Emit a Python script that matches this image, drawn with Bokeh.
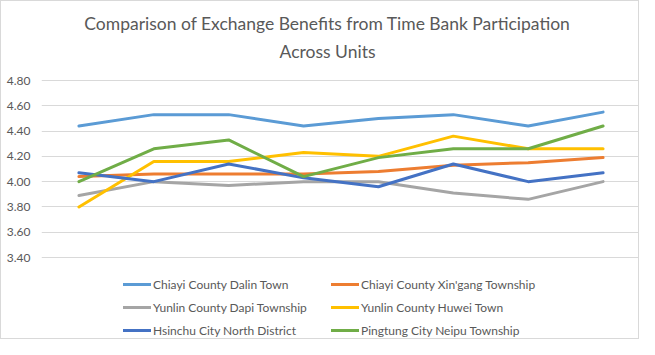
from bokeh.plotting import figure
from bokeh.models import Legend, LegendItem, Label, NumeralTickFormatter, FixedTicker, Range1d
from bokeh.embed import file_html
from bokeh.resources import INLINE

points = [1, 2, 3, 4, 5, 6, 7, 8]
series_names = [
    "Chiayi County Dalin Town",
    "Chiayi County Xin'gang Township",
    "Yunlin County Dapi Township",
    "Yunlin County Huwei Town",
    "Hsinchu City North District",
    "Pingtung City Neipu Township",
]
dalin = [4.44, 4.53, 4.53, 4.44, 4.50, 4.53, 4.44, 4.55]
xingang = [4.04, 4.06, 4.06, 4.06, 4.08, 4.13, 4.15, 4.19]
dapi = [3.89, 4.00, 3.97, 4.00, 4.00, 3.91, 3.86, 4.00]
huwei = [3.80, 4.16, 4.16, 4.23, 4.20, 4.36, 4.26, 4.26]
hsinchu = [4.07, 4.00, 4.14, 4.03, 3.96, 4.14, 4.00, 4.07]
neipu = [4.00, 4.26, 4.33, 4.04, 4.19, 4.26, 4.26, 4.44]
colors = ["#5B9BD5", "#ED7D31", "#A5A5A5", "#FFC000", "#4472C4", "#70AD47"]
y_ticks = [3.4, 3.6, 3.8, 4.0, 4.2, 4.4, 4.6, 4.8]
title_lines = ["Comparison of Exchange Benefits from Time Bank Participation", "Across Units"]

FONT = "Lato"
TXT = "#595959"

# layout (pixels)
W, H = 639, 339
LEFT = 40               # width of the tick-label area
TOP_PX = 79             # where 4.80 sits, from the top
AXIS_PX = 177           # pixels from 4.80 down to 3.40
y_lo, y_hi = y_ticks[0], y_ticks[-1]
px_per_unit = AXIS_PX / (y_hi - y_lo)
extra_below = (H - TOP_PX - AXIS_PX) / px_per_unit   # room for the legend inside the frame
extra_above = TOP_PX / px_per_unit                    # room for the title inside the frame

p = figure(width=W, height=H, output_backend="svg", toolbar_location=None,
           x_range=Range1d(0.5, 8.5), y_range=Range1d(y_lo - extra_below, y_hi + extra_above),
           min_border_left=LEFT, min_border_right=0, min_border_top=0, min_border_bottom=0)
p.styles = {"border": "1px solid #D9D9D9"}
p.outline_line_color = None
p.xaxis.visible = False
p.xgrid.visible = False
p.ygrid.grid_line_color = "#D9D9D9"
p.ygrid.grid_line_width = 1
p.yaxis.ticker = FixedTicker(ticks=y_ticks)
p.yaxis.formatter = NumeralTickFormatter(format="0.00")
p.yaxis.axis_line_color = None
p.yaxis.major_tick_line_color = None
p.yaxis.minor_tick_line_color = None
p.yaxis.major_label_text_font = FONT
p.yaxis.major_label_text_font_size = "12px"
p.yaxis.major_label_text_color = TXT
p.yaxis.major_label_standoff = 5

items = []
for name, vals, c in zip(series_names, [dalin, xingang, dapi, huwei, hsinchu, neipu], colors):
    r = p.line(points, vals, line_color=c, line_width=3, line_join="round", line_cap="round")
    items.append(LegendItem(label=name, renderers=[r]))

# title: two centred lines, in screen units measured from the frame's bottom-left
title_cx = 326 - LEFT
for line, cy in zip(title_lines, [22, 50]):
    p.add_layout(Label(x=title_cx, y=H - cy, x_units="screen", y_units="screen", text=line,
                       text_align="center", text_baseline="middle", text_font=FONT,
                       text_font_size="17.5px", text_color=TXT))

legend_style = dict(label_text_font=FONT, label_text_font_size="12px", label_text_color=TXT,
                    glyph_width=28, glyph_height=20, label_height=20,
                    label_standoff=2, spacing=3, padding=0, margin=0,
                    border_line_color=None, background_fill_alpha=0)
# legend fills row by row: left column holds items 0, 2, 4; right column items 1, 3, 5
left_legend = Legend(items=items[0::2], location=(82, 0), **legend_style)
right_legend = Legend(items=items[1::2], location=(290, 0), **legend_style)
p.add_layout(left_legend, "center")
p.add_layout(right_legend, "center")

open("out.html", "w").write(file_html(p, INLINE))
